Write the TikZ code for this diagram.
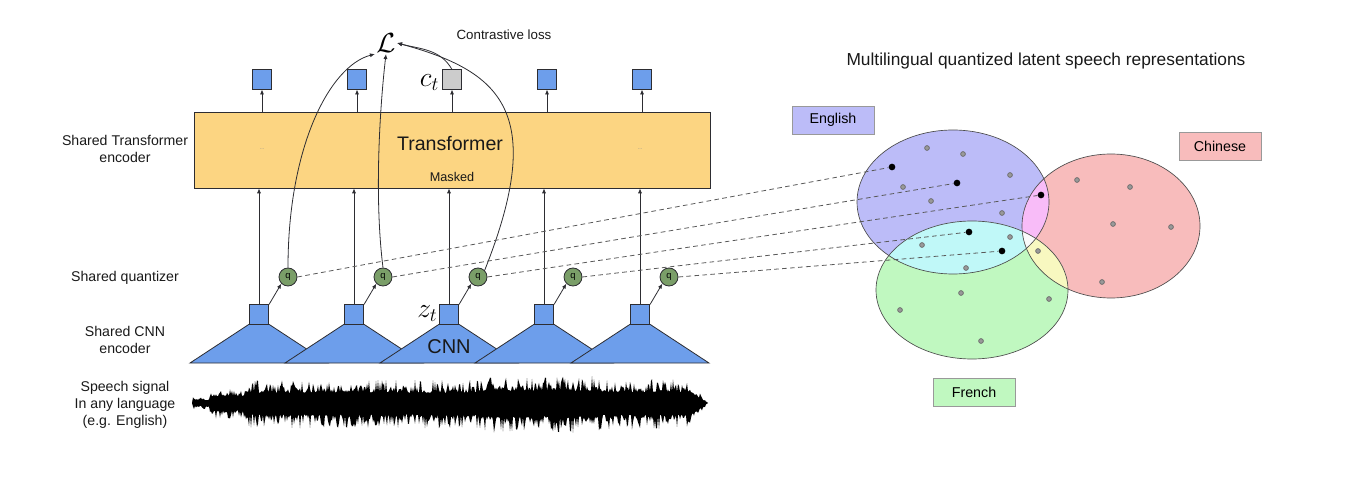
\documentclass[tikz,border=0pt]{standalone}
\usepackage{fontspec}
\setmainfont{Liberation Sans}
\usetikzlibrary{arrows.meta,positioning}

\definecolor{sqblue}{RGB}{109,158,235}
\definecolor{ctgrey}{RGB}{204,204,204}
\definecolor{qgreen}{RGB}{122,158,104}
\definecolor{trforange}{RGB}{252,213,130}
\definecolor{engfill}{RGB}{188,188,248}
\definecolor{zhfill}{RGB}{248,188,188}
\definecolor{frfill}{RGB}{192,248,192}
\definecolor{engzh}{RGB}{248,188,248}
\definecolor{engfr}{RGB}{192,248,248}
\definecolor{zhfr}{RGB}{248,248,192}
\definecolor{allfill}{RGB}{250,250,250}
\definecolor{edgegrey}{RGB}{45,45,50}
\definecolor{txtgrey}{RGB}{25,25,25}

\newcommand{\engellipse}{(953,284) ellipse [x radius=96, y radius=72]}
\newcommand{\zhellipse}{(1111,260) ellipse [x radius=89, y radius=72]}
\newcommand{\frellipse}{(972,196) ellipse [x radius=96, y radius=69]}

\tikzset{
sqbox/.style={
  rectangle,
  line width=0.6pt,
  draw=edgegrey,
  fill=sqblue,
  minimum size=14.5pt,
  inner sep=0pt,
  }
}
\tikzset{
qnode/.style={
  circle,
  line width=0.6pt,
  draw=edgegrey,
  fill=qgreen,
  minimum size=13.5pt,
  inner sep=0pt,
  font=\fontsize{7}{8}\selectfont,
  }
}
\tikzset{
myline/.style={
  line width=0.6pt,
  draw=edgegrey,
  -{Latex[length=1.3mm,width=1.1mm]}
  }
}
\tikzset{
dashline/.style={
  line width=0.6pt,
  draw=black!65,
  dash pattern=on 3.5pt off 2.5pt,
  },
lbl/.style={
  align=center,
  text=txtgrey,
  font=\fontsize{10.6}{13}\selectfont,
  },
langbox/.style={
  rectangle,
  line width=0.6pt,
  draw=black!40,
  minimum width=61.5pt,
  minimum height=21pt,
  font=\fontsize{10.7}{13}\selectfont,
  },
gdot/.style={
  circle,
  inner sep=0pt,
  minimum size=3.6pt,
  line width=0.5pt,
  draw=black!60,
  fill=black!40,
  },
bdot/.style={
  circle,
  inner sep=0pt,
  minimum size=5pt,
  fill=black,
  },
ellline/.style={
  line width=0.5pt,
  draw=black!70,
  },
bigmath/.style={
  inner sep=1pt,
  font=\fontsize{20}{23}\selectfont,
  },
}

\begin{document}
\begin{tikzpicture}[x=0.75pt, y=0.75pt,
  declare function={env(\t)=\t<210 ? 6 : (\t<245 ? 15 : (\t<480 ? 23 : (\t<600 ? 27 : (\t<690 ? 24 : (708-\t)*1.3))));}]
  \useasboundingbox (0,0) rectangle (1360,486);

  % side labels
  \node[lbl] (lab_trf) at (125,337) {Shared Transformer\\encoder};
  \node[lbl] (lab_q) at (125,208) {Shared quantizer};
  \node[lbl] (lab_cnn) at (125,146) {Shared CNN\\encoder};
  \node[lbl] (lab_sig) at (125,81) {Speech signal\\In any language\\(e.g. English)};

  % transformer part
  \node[rectangle, line width=0.6pt, draw=edgegrey, fill=trforange,
        minimum width=387pt, minimum height=57pt] (trf) at (452,336) {};
  \node[font=\fontsize{14.7}{17}\selectfont, text=txtgrey] (trf_txt) at (450,342) {Transformer};
  \node[font=\fontsize{9.5}{11}\selectfont, text=txtgrey] (masked) at (452,309) {Masked};
  \node[font=\fontsize{4}{4}\selectfont, text=black!45] (dots1) at (262,337) {...};
  \node[font=\fontsize{4}{4}\selectfont, text=black!45] (dots2) at (640,337) {...};

  % outputs
  \foreach \i/\x in {1/262,2/357,4/547,5/642}
    \node[sqbox] (out\i) at (\x,406.5) {};
  \node[sqbox, fill=ctgrey] (out3) at (452,406.5) {};
  \node[bigmath, left=1pt of out3, yshift=-2pt] (ct) {$c_t$};
  \foreach \i in {1,...,5}
    \draw[myline] (out\i.south |- trf.north) -- (out\i.south);

  % loss
  \node[bigmath] (L) at (386,443) {$\mathcal{L}$};
  \node[lbl, font=\fontsize{10}{12}\selectfont] (closs) at (504,451) {Contrastive loss};

  % cnn part
  \foreach \i/\x in {1/259,2/354,3/449,4/544,5/640} {
    \filldraw[line width=0.6pt, draw=edgegrey, fill=sqblue]
      ({\x-9.5},162) -- ({\x+9.5},162) -- ({\x+69},123) -- ({\x-69},123) -- cycle;
    \node[sqbox] (cnn\i) at (\x,171.5) {};
    \node[qnode] (q\i) at ({\x+29},209) {q};
    \draw[myline] (cnn\i.north) -- (cnn\i.north |- trf.south);
    \draw[myline] (cnn\i.north east) -- (q\i.south west);
  }
  \node[bigmath, left=0pt of cnn3, yshift=1pt] (zt) {$z_t$};
  \node[font=\fontsize{15}{18}\selectfont, text=txtgrey] (cnn_txt) at (449,139) {CNN};

  % loss edges
  \draw[myline] (q1.north) .. controls (288,340) and (330,420) .. (L.south west);
  \draw[myline] (q2.north) .. controls (374,290) and (380,380) .. (L.south);
  \draw[myline] (q3.north east) .. controls (548,375) and (500,415) .. (L.east);
  \draw[myline] (out3.north) to[out=120,in=-15] (L.east);

  % speech signal
  \pgfmathsetseed{11}
  \fill[black] (192,83)
    \foreach \x in {193,194,...,707} { -- (\x,{83+env(\x)*(0.45+0.55*rnd^2)}) }
    -- (708,83)
    \foreach \x in {707,706,...,193} { -- (\x,{83-1.1*env(\x)*(0.45+0.55*rnd^2)}) }
    -- cycle;

  % language regions
  \node[font=\fontsize{13}{15}\selectfont, text=txtgrey] (title) at (1046,425)
    {Multilingual quantized latent speech representations};
  \fill[engfill] \engellipse;
  \fill[zhfill] \zhellipse;
  \fill[frfill] \frellipse;
  \begin{scope}
    \clip \engellipse;
    \fill[engzh] \zhellipse;
  \end{scope}
  \begin{scope}
    \clip \engellipse;
    \fill[engfr] \frellipse;
  \end{scope}
  \begin{scope}
    \clip \zhellipse;
    \fill[zhfr] \frellipse;
  \end{scope}
  \begin{scope}
    \clip \engellipse;
    \clip \zhellipse;
    \fill[allfill] \frellipse;
  \end{scope}
  \draw[ellline] \engellipse;
  \draw[ellline] \zhellipse;
  \draw[ellline] \frellipse;

  \node[langbox, fill=engfill] (eng) at (833,366) {English};
  \node[langbox, fill=zhfill] (zh) at (1220,340) {Chinese};
  \node[langbox, fill=frfill] (fr) at (974,93.5) {French};

  % codewords
  \foreach \x/\y [count=\i] in {927/338,963/332,1010/311,903/299,931/285,1002/273,
      1010/249,922/241,966/218,1038/235,1077/306,1130/299,1113/262,1171/259,
      1102/204,961/193,1049/187,900/176,981/145}
    \node[gdot] (g\i) at (\x,\y) {};
  \foreach \x/\y [count=\i] in {892/319,957/303,1041/291,969/254,1002/235}
    \node[bdot] (b\i) at (\x,\y) {};

  % quantizer edges
  \foreach \i in {1,...,5}
    \draw[dashline] (q\i.east) -- (b\i);
\end{tikzpicture}
\end{document}
